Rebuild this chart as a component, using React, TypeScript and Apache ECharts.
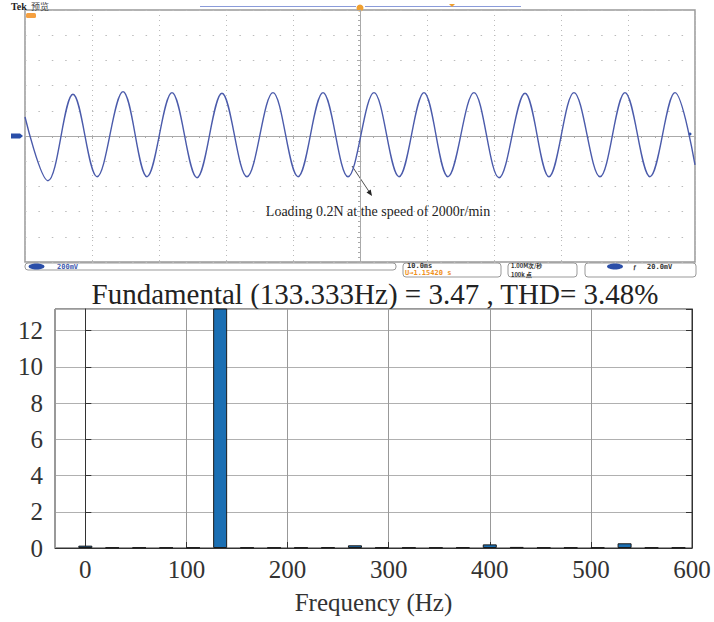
import React, { useEffect, useRef } from "react";
import * as echarts from "echarts";

// ---- Oscilloscope trace (time relative to trigger, ms; voltage, mV) ----
const waveTimeMs = [
  -50, -46.57, -42.84, -39.25, -35.37, -31.79, -28.06, -24.33, -20.6, -16.87,
  -12.99, -9.25, -5.52, -1.79, 2.09, 5.82, 9.55, 13.13, 17.01, 20.75, 24.63,
  28.21, 31.94, 35.82, 39.55, 43.28, 47.01, 50,
];
const waveMv = [
  151, -355, 331, -323, 352, -323, 344, -331, 339, -323, 344, -323, 344, -323,
  344, -323, 344, -323, 344, -331, 339, -323, 344, -323, 344, -323, 344, -230,
];

// ---- Harmonic spectrum (Hz, % of fundamental) ----
const harmonicFreqHz = [
  0, 26.67, 53.33, 80, 106.67, 133.33, 160, 186.67, 213.33, 240, 266.67, 293.33,
  320, 346.67, 373.33, 400, 426.67, 453.33, 480, 506.67, 533.33, 560, 586.67,
];
const harmonicMag = [
  0.13, 0.03, 0.03, 0.03, 0.03, 100, 0.03, 0.03, 0.03, 0.04, 0.15, 0.03, 0.03,
  0.03, 0.04, 0.2, 0.06, 0.03, 0.03, 0.03, 0.26, 0.03, 0.03,
];
const xTickLabels = ["0", "100", "200", "300", "400", "500", "600"];

const titleText = "Fundamental (133.333Hz) = 3.47 , THD= 3.48%";
const noteText = "Loading 0.2N at the speed of 2000r/min";

const SERIF = "'Liberation Serif', 'Times New Roman', serif";
const MONO = "'DejaVu Sans Mono', monospace";
const CJK = "'Noto Sans CJK SC', 'DejaVu Sans', sans-serif";

export default function App() {
  const ref = useRef<HTMLDivElement>(null);

  useEffect(() => {
    if (!ref.current) return;
    const chart = echarts.init(ref.current, undefined, { renderer: "svg" });

    const waveData = waveTimeMs.map((t, i) => [t, waveMv[i]]);
    const barData = harmonicFreqHz.map((f, i) => [f, harmonicMag[i]]);

    const small = (text: string, x: number, y: number, fill: string, family = MONO, size = 7) => ({
      type: "text", x, y,
      style: { text, font: `bold ${size}px ${family}`, lineHeight: 6, fill, verticalAlign: "middle" },
    });

    const graphic: any[] = [
      // scope header
      { type: "text", x: 11, y: 6, style: { text: "Tek", font: `bold 10px ${SERIF}`, fill: "#222", verticalAlign: "middle" } },
      { type: "text", x: 31, y: 6, style: { text: "预览", font: `9px ${CJK}`, fill: "#444", verticalAlign: "middle" } },
      { type: "line", shape: { x1: 200, y1: 6.5, x2: 356, y2: 6.5 }, style: { stroke: "#8b9bd9", lineWidth: 1 } },
      { type: "line", shape: { x1: 365, y1: 6.5, x2: 521, y2: 6.5 }, style: { stroke: "#8b9bd9", lineWidth: 1 } },
      { type: "circle", shape: { cx: 360, cy: 8, r: 3.5 }, style: { fill: "#f0a030" } },
      { type: "polygon", shape: { points: [[449, 4], [455, 4], [452, 7]] }, style: { fill: "#f0a030" } },
      { type: "rect", shape: { x: 26, y: 13, width: 10, height: 5, r: 1.5 }, style: { fill: "#f5a040" } },
      { type: "polygon", shape: { points: [[11, 133.5], [20, 133.5], [23, 136], [20, 138.5], [11, 138.5]] }, style: { fill: "#2a4ea8" } },
      { type: "circle", shape: { cx: 690, cy: 134, r: 1.5 }, style: { fill: "#2a4ea8" } },
      // annotation
      { type: "text", x: 378, y: 211, style: { text: noteText, font: `14px ${SERIF}`, fill: "#222", align: "center", verticalAlign: "middle" } },
      { type: "line", shape: { x1: 352, y1: 166, x2: 370, y2: 193 }, style: { stroke: "#222", lineWidth: 0.8 } },
      { type: "polygon", shape: { points: [[372, 196], [366.5, 192.4], [370.7, 189.6]] }, style: { fill: "#222" } },
      // status bar
      { type: "rect", shape: { x: 25, y: 263, width: 371, height: 7, r: 3 }, style: { fill: "none", stroke: "#999", lineWidth: 1 } },
      { type: "ellipse", shape: { cx: 36.5, cy: 266.5, rx: 8, ry: 3 }, style: { fill: "#2a4ea8" } },
      small("200mV", 57, 266.5, "#3e5bb0"),
      { type: "rect", shape: { x: 403, y: 263, width: 98, height: 14, r: 3 }, style: { fill: "none", stroke: "#999", lineWidth: 1 } },
      small("10.0ms", 407, 266.3, "#333"),
      small("U→1.15420 s", 405, 273.2, "#f0901a"),
      { type: "rect", shape: { x: 508, y: 263, width: 69, height: 14, r: 3 }, style: { fill: "none", stroke: "#999", lineWidth: 1 } },
      small("1.00M次/秒", 511, 265.8, "#333", CJK, 5.8),
      small("100k 点", 511, 274.4, "#333", CJK, 5.8),
      { type: "rect", shape: { x: 585, y: 263, width: 111, height: 14, r: 3 }, style: { fill: "none", stroke: "#999", lineWidth: 1 } },
      { type: "ellipse", shape: { cx: 615, cy: 266.5, rx: 8, ry: 3 }, style: { fill: "#2a4ea8" } },
      small("ƒ", 633, 266.5, "#333", SERIF),
      small("20.0mV", 647, 266.5, "#333"),
      // spectrum title
      { type: "text", x: 375, y: 294, style: { text: titleText, font: `29px ${SERIF}`, fill: "#222", align: "center", verticalAlign: "middle" } },
    ];

    chart.setOption({
      animation: false,
      backgroundColor: "#fff",
      graphic,
      grid: [
        { left: 25, top: 10, width: 670, height: 252, show: true, borderColor: "#999", borderWidth: 1.5, backgroundColor: "transparent" },
        { left: 55, top: 309, width: 637, height: 239, show: true, borderColor: "#333", borderWidth: 1, backgroundColor: "transparent" },
      ],
      xAxis: [
        {
          type: "value", gridIndex: 0, min: -50, max: 50, interval: 10,
          axisLabel: { show: false },
          axisLine: { show: true, onZero: true, lineStyle: { color: "#aaa", width: 1 } },
          axisTick: { show: true, length: 3, lineStyle: { color: "#aaa" } },
          minorTick: { show: true, splitNumber: 5, length: 2, lineStyle: { color: "#aaa" } },
          splitLine: { show: true, lineStyle: { color: "#bbb", type: [1, 4], width: 1 } },
        },
        {
          type: "value", gridIndex: 1, min: -30, max: 600, splitNumber: 6,
          axisLine: { show: true, onZero: false, lineStyle: { color: "#333", width: 1 } },
          axisTick: { show: true, inside: true, length: 6, lineStyle: { color: "#333" } },
          axisLabel: {
            showMinLabel: false, margin: 9, color: "#333", fontFamily: SERIF, fontSize: 25,
            formatter: (v: number) => (xTickLabels.includes(String(v)) ? String(v) : ""),
          },
          splitLine: { show: true, lineStyle: { color: "#999", width: 1 } },
          name: "Frequency (Hz)", nameLocation: "middle", nameGap: 42,
          nameTextStyle: { color: "#333", fontFamily: SERIF, fontSize: 25 },
        },
      ],
      yAxis: [
        {
          type: "value", gridIndex: 0, min: -1000, max: 1000, interval: 200,
          axisLabel: { show: false },
          axisLine: { show: true, onZero: true, lineStyle: { color: "#aaa", width: 1 } },
          axisTick: { show: true, length: 3, lineStyle: { color: "#aaa" } },
          minorTick: { show: true, splitNumber: 5, length: 2, lineStyle: { color: "#aaa" } },
          splitLine: { show: true, lineStyle: { color: "#bbb", type: [1.5, 11.9], width: 1 } },
        },
        {
          type: "value", gridIndex: 1, min: 0, max: 13.2, interval: 2,
          axisLine: { show: true, lineStyle: { color: "#333", width: 1 } },
          axisTick: { show: true, inside: true, length: 6, lineStyle: { color: "#333" } },
          axisLabel: { showMaxLabel: false, margin: 12, color: "#333", fontFamily: SERIF, fontSize: 25 },
          splitLine: { show: true, lineStyle: { color: "#b0b0b0", width: 1 } },
        },
        {
          type: "value", gridIndex: 1, min: 0, max: 13.2, interval: 2, position: "right",
          axisLine: { show: true, lineStyle: { color: "#333", width: 1 } },
          axisTick: { show: true, inside: true, length: 6, lineStyle: { color: "#333" } },
          axisLabel: { show: false },
          splitLine: { show: false },
        },
      ],
      series: [
        {
          type: "line", xAxisIndex: 0, yAxisIndex: 0, data: waveData,
          smooth: 0.36, showSymbol: false, symbol: "none",
          lineStyle: { color: "#4b5bab", width: 1.4 },
        },
        {
          type: "bar", xAxisIndex: 1, yAxisIndex: 1, data: barData,
          barWidth: 14, clip: true,
          itemStyle: { color: "#1b6fb3", borderColor: "#1a1a1a", borderWidth: 1 },
        },
      ],
    });

    return () => chart.dispose();
  }, []);

  return (
    <div
      ref={ref}
      style={{ position: "absolute", left: 0, top: 0, width: 714, height: 622 }}
    />
  );
}
